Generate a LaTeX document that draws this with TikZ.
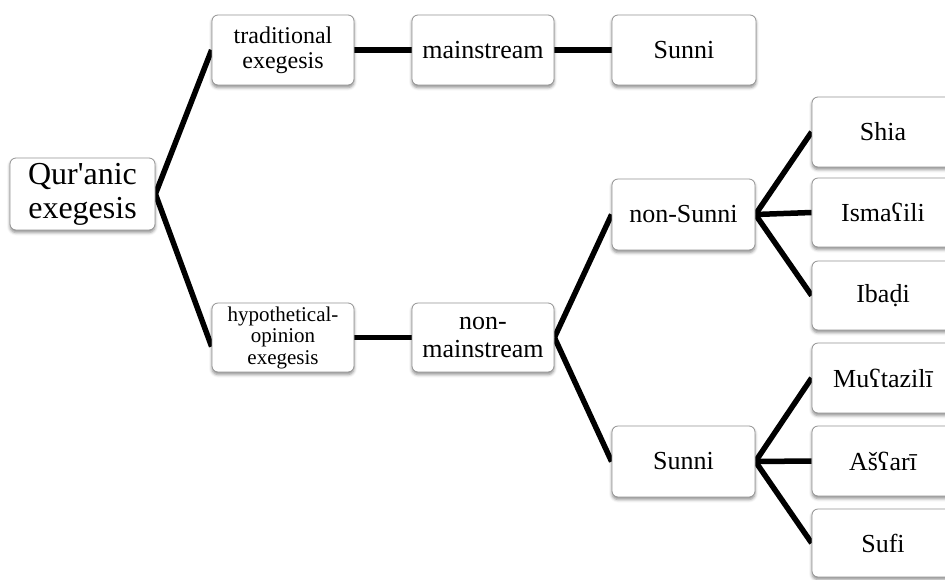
\documentclass[tikz,border=0pt]{standalone}
\usepackage{fontspec}
\setmainfont{Liberation Serif}
\newfontfamily\plainrm{Liberation Serif}[Ligatures=ResetAll]
\usetikzlibrary{shadows.blur,backgrounds}
\tikzset{
  box/.style={draw=black!42, rounded corners=6pt, fill=white, minimum width=142pt,
    minimum height=70pt, inner sep=2pt, align=center, text=black, line width=0.8pt,
    blur shadow={shadow xshift=0pt, shadow yshift=-2.5pt, shadow blur radius=3pt, shadow opacity=45}},
  big/.style={font=\fontsize{32}{34}\selectfont},
  mid/.style={font=\fontsize{26}{28}\selectfont},
  trd/.style={font=\fontsize{24}{25}\selectfont},
  sml/.style={font=\fontsize{21}{21.5}\selectfont},
  link/.style={line width=5.5pt, black},
}
\begin{document}
\begin{tikzpicture}[x=1pt,y=-1pt]
\useasboundingbox (0,0) rectangle (945,579);
\clip (0,0) rectangle (945,579);
\node[box,big,minimum width=145pt,minimum height=72pt] (root) at (82.5,194) {Qur{\plainrm'}anic\\exegesis};
\node[box,trd] (trad) at (283,50) {traditional\\exegesis};
\node[box,mid] (main) at (483,50) {mainstream};
\node[box,mid,minimum width=144pt] (sunniT) at (684,50) {Sunni};
\node[box,sml,minimum height=69pt] (hyp) at (283,337.5) {hypothetical-\\opinion\\exegesis};
\node[box,mid,minimum height=69pt] (nonmain) at (483,337.5) {non-\\mainstream};
\node[box,mid,minimum width=143pt,minimum height=71pt] (nonsunni) at (683.5,214.5) {non-Sunni};
\node[box,mid,minimum width=143pt,minimum height=71pt] (sunniB) at (683.5,461.5) {Sunni};
\node[box,mid] (shia) at (883,132) {Shia};
\node[box,mid,minimum height=69pt] (ism) at (883,212.5) {Isma\symbol{"0295}ili};
\node[box,mid,minimum height=69pt] (ibadi) at (883,295.5) {Iba\symbol{"1E0D}i};
\node[box,mid] (mut) at (883,378) {Mu\symbol{"0295}tazil\symbol{"012B}};
\node[box,mid] (ash) at (883,461) {A\symbol{"0161}\symbol{"0295}ar\symbol{"012B}};
\node[box,mid,minimum height=68pt] (sufi) at (883,543) {Sufi};
\begin{scope}[on background layer]
\draw[link] (root.east) -- (trad.west);
\draw[link] (root.east) -- ([yshift=-9pt]hyp.west);
\draw[link] (trad.east) -- (main.west);
\draw[link] (main.east) -- (sunniT.west);
\draw[link] (hyp.east) -- (nonmain.west);
\draw[link] (nonmain.east) -- (nonsunni.west);
\draw[link] (nonmain.east) -- (sunniB.west);
\draw[link] (nonsunni.east) -- (shia.west);
\draw[link] (nonsunni.east) -- (ism.west);
\draw[link] (nonsunni.east) -- (ibadi.west);
\draw[link] (sunniB.east) -- (mut.west);
\draw[link] (sunniB.east) -- (ash.west);
\draw[link] (sunniB.east) -- (sufi.west);
\end{scope}
\end{tikzpicture}
\end{document}
